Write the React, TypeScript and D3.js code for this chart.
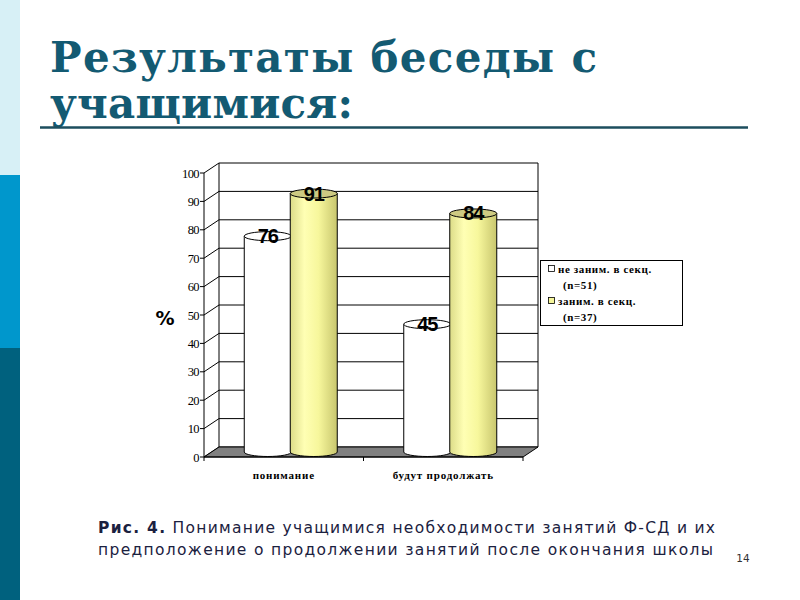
import React from "react";
import * as d3 from "d3";

const categories = ["понимание", "будут продолжать"];
const seriesNames = ["не заним. в секц.", "заним. в секц."];
const seriesCounts = ["(n=51)", "(n=37)"];
const notEngaged = [76, 45];
const engaged = [91, 84];
const yTicks = [0, 10, 20, 30, 40, 50, 60, 70, 80, 90, 100];

const DX = 15;
const DY = -10;
const CYL_W = 47;
const RY = 4.5;

export default function App() {
  const x = d3.scaleBand<string>().domain(categories).range([204, 523]).padding(0);
  const y = d3.scaleLinear().domain([0, 100]).range([457, 173]);
  const yMid = (v: number) => y(v) + DY / 2;
  const bw = x.bandwidth();
  const series = [notEngaged, engaged];

  const cyl = (cat: string, si: number, v: number) => {
    const c = (x(cat) as number) + bw / 2 + DX / 2;
    const x0 = si === 0 ? c - CYL_W : c - 1;
    const rx = CYL_W / 2;
    const yt = yMid(v);
    const yb = yMid(0);
    const body = `M${x0},${yt} L${x0},${yb} A${rx},${RY} 0 0 0 ${x0 + CYL_W},${yb} L${x0 + CYL_W},${yt} Z`;
    return { body, cx: x0 + rx, rx, yt };
  };

  const leftStrip = [
    { y0: 0, y1: 175, c: "#d7f0f6" },
    { y0: 175, y1: 348, c: "#0097cc" },
    { y0: 348, y1: 600, c: "#00617e" },
  ];

  return (
    <svg
      width={800}
      height={600}
      style={{ position: "absolute", left: 0, top: 0, display: "block", background: "#fff" }}
    >
      <defs>
        <linearGradient id="yel" x1="0" x2="1" y1="0" y2="0">
          <stop offset="0" stopColor="#dcdc88" />
          <stop offset="0.3" stopColor="#ffffb4" />
          <stop offset="0.6" stopColor="#f7f79c" />
          <stop offset="1" stopColor="#c8c66e" />
        </linearGradient>
      </defs>
      {leftStrip.map((s, i) => (
        <rect key={i} x={0} y={s.y0} width={20} height={s.y1 - s.y0} fill={s.c} />
      ))}

      {/* Title */}
      <g fill="#135a72" fontFamily="'DejaVu Serif', serif" fontWeight="bold" fontSize={42}>
        <text x={50} y={72} textLength={547} lengthAdjust="spacing">Результаты беседы с</text>
        <text x={50} y={118} textLength={303} lengthAdjust="spacing">учащимися:</text>
      </g>
      <line x1={40} x2={748} y1={127.5} y2={127.5} stroke="#1d4e5e" strokeWidth={2.5} />

      {/* back wall gridlines */}
      <g stroke="#000" strokeWidth={1} fill="none">
        {yTicks.map((t) => (
          <line key={"g" + t} x1={204 + DX} x2={523 + DX} y1={y(t) + DY} y2={y(t) + DY} />
        ))}
        {yTicks.map((t) => (
          <line key={"d" + t} x1={204} x2={204 + DX} y1={y(t)} y2={y(t) + DY} />
        ))}
        <line x1={204 + DX} x2={204 + DX} y1={y(100) + DY} y2={y(0) + DY} />
        <line x1={523 + DX} x2={523 + DX} y1={y(100) + DY} y2={y(0) + DY} />
      </g>

      {/* floor */}
      <path
        d={`M204,${y(0)} L523,${y(0)} L${523 + DX},${y(0) + DY} L${204 + DX},${y(0) + DY} Z`}
        fill="#808080"
        stroke="#000"
        strokeWidth={1}
      />

      {/* cylinders */}
      {series.map((vals, si) =>
        categories.map((cat, ci) => {
          const k = cyl(cat, si, vals[ci]);
          return (
            <g key={`c${si}-${ci}`} stroke="#000" strokeWidth={1}>
              <path d={k.body} fill={si === 0 ? "#fff" : "url(#yel)"} />
              <ellipse cx={k.cx} cy={k.yt} rx={k.rx} ry={RY} fill={si === 0 ? "#fff" : "#cdca82"} />
            </g>
          );
        })
      )}

      {/* axes */}
      <g stroke="#000" strokeWidth={1}>
        <line x1={204} x2={204} y1={y(100)} y2={y(0)} />
        {yTicks.map((t) => (
          <line key={"t" + t} x1={200} x2={204} y1={y(t)} y2={y(t)} />
        ))}
        <line x1={204} x2={523} y1={y(0)} y2={y(0)} />
        {[204, 204 + bw, 523].map((xx, i) => (
          <line key={"bx" + i} x1={xx} x2={xx} y1={y(0)} y2={y(0) + 4} />
        ))}
      </g>
      <g fontFamily="'Liberation Serif', serif" fontSize={12.5} textAnchor="end" fill="#000" letterSpacing={-0.6}>
        {yTicks.map((t) => (
          <text key={"l" + t} x={199} y={y(t) + 4.5}>
            {t}
          </text>
        ))}
      </g>
      <text x={165} y={325} fontFamily="'DejaVu Sans', sans-serif" fontWeight="bold" fontSize={19} textAnchor="middle">
        %
      </text>
      <g fontFamily="'Liberation Serif', serif" fontSize={11} fontWeight="bold" textAnchor="middle" letterSpacing={0.8}>
        {categories.map((c) => (
          <text key={c} x={(x(c) as number) + bw / 2} y={479}>
            {c}
          </text>
        ))}
      </g>

      {/* value labels */}
      <g fontFamily="'Liberation Sans', Arial, sans-serif" fontWeight="bold" fontSize={20} textAnchor="middle" fill="#000">
        {series.map((vals, si) =>
          categories.map((cat, ci) => {
            const k = cyl(cat, si, vals[ci]);
            return (
              <text key={`v${si}-${ci}`} x={k.cx} y={k.yt + 7} letterSpacing={-1}>
                {vals[ci]}
              </text>
            );
          })
        )}
      </g>

      {/* legend */}
      <rect x={540.5} y={260.5} width={142} height={65} fill="#fff" stroke="#000" strokeWidth={1} />
      <g fontFamily="'Liberation Serif', serif" fontSize={11} fontWeight="bold" fill="#000" letterSpacing={0.6}>
        {seriesNames.map((n, i) => (
          <g key={n}>
            <rect x={548.5} y={265.5 + i * 32} width={6} height={6} fill={i === 0 ? "#fff" : "#f5f59a"} stroke="#000" strokeWidth={0.8} />
            <text x={558} y={273 + i * 32}>{n}</text>
            <text x={563} y={289 + i * 32}>{seriesCounts[i]}</text>
          </g>
        ))}
      </g>

      {/* caption */}
      <g fontFamily="'DejaVu Sans', sans-serif" fontSize={15.5} fill="#1b2140">
        <text x={98} y={533} textLength={617} lengthAdjust="spacing">
          <tspan fontWeight="bold">Рис. 4.</tspan> Понимание учащимися необходимости занятий Ф-СД и их
        </text>
        <text x={98} y={555} textLength={615} lengthAdjust="spacing">
          предположение о продолжении занятий после окончания школы
        </text>
      </g>
      <text x={743} y={562} fontFamily="'DejaVu Sans', sans-serif" fontSize={10.5} fill="#333" textAnchor="middle">
        14
      </text>
    </svg>
  );
}
